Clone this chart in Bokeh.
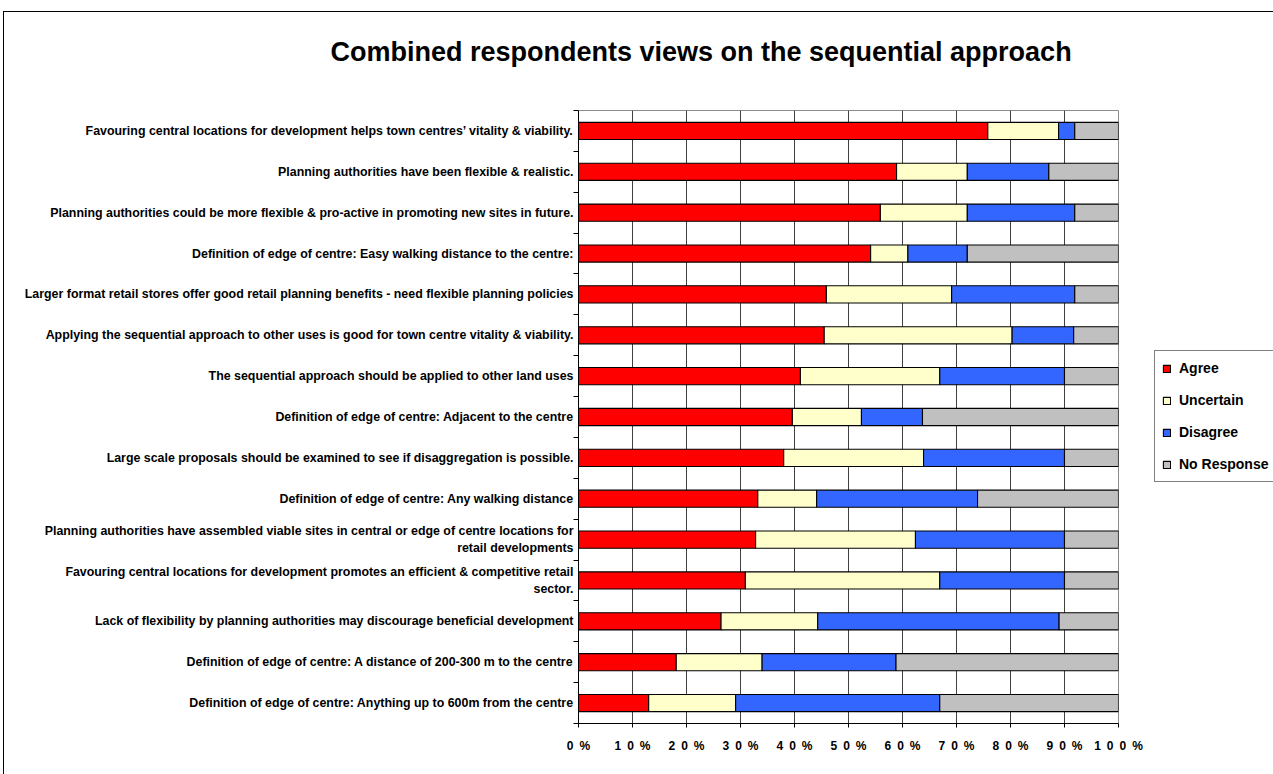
from bokeh.plotting import figure
from bokeh.models import ColumnDataSource, FixedTicker, Legend, LegendItem, Title
from bokeh.embed import file_html
from bokeh.resources import INLINE

categories = [
    "Favouring central locations for development helps town centres\u2019 vitality & viability.",
    "Planning authorities have been flexible & realistic.",
    "Planning authorities could be more flexible & pro-active in promoting new sites in future.",
    "Definition of edge of centre: Easy walking distance to the centre:",
    "Larger format retail stores offer good retail planning benefits - need flexible planning policies",
    "Applying the sequential approach to other uses is good for town centre vitality & viability.",
    "The sequential approach should be applied to other land uses",
    "Definition of edge of centre: Adjacent to the centre",
    "Large scale proposals should be examined to see if disaggregation is possible.",
    "Definition of edge of centre: Any walking distance",
    "Planning authorities have assembled viable sites in central or edge of centre locations for\nretail developments",
    "Favouring central locations for development promotes an efficient & competitive retail\nsector.",
    "Lack of flexibility by planning authorities may discourage beneficial development",
    "Definition of edge of centre: A distance of 200-300 m to the centre",
    "Definition of edge of centre: Anything up to 600m from the centre",
]
agree = [75.8, 58.9, 55.9, 54.1, 45.9, 45.5, 41.1, 39.6, 38.0, 33.2, 32.8, 30.9, 26.4, 18.1, 13.0]
uncertain = [13.1, 13.1, 16.1, 6.9, 23.2, 34.8, 25.8, 12.8, 25.9, 10.9, 29.6, 36.0, 17.9, 15.9, 16.1]
disagree = [3.0, 15.1, 19.9, 11.0, 22.8, 11.4, 23.1, 11.3, 26.1, 29.8, 27.6, 23.1, 44.7, 24.8, 37.8]
no_response = [8.1, 12.9, 8.1, 28.0, 8.1, 8.3, 10.0, 36.3, 10.0, 26.1, 10.0, 10.0, 11.0, 41.2, 33.1]
series_names = ["Agree", "Uncertain", "Disagree", "No Response"]
series_colors = ["#FF0000", "#FFFFCC", "#3366FF", "#C0C0C0"]
x_ticks = [0, 10, 20, 30, 40, 50, 60, 70, 80, 90, 100]
x_tick_labels = ["0\u2002%", "1\u20020\u2002%", "2\u20020\u2002%", "3\u20020\u2002%", "4\u20020\u2002%",
                 "5\u20020\u2002%", "6\u20020\u2002%", "7\u20020\u2002%", "8\u20020\u2002%",
                 "9\u20020\u2002%", "1\u20020\u20020\u2002%"]
title_text = "Combined respondents views on the sequential approach"

n = len(categories)
ypos = [n - i - 0.5 for i in range(n)]

src = ColumnDataSource(dict(y=ypos, agree=agree, uncertain=uncertain,
                            disagree=disagree, no_response=no_response))

p = figure(frame_width=540, frame_height=613,
           min_border_left=574, min_border_right=155,
           min_border_top=98, min_border_bottom=51,
           x_range=(0, 100), y_range=(0, n), title=None,
           output_backend="svg", toolbar_location=None)
p.styles = {"position": "relative", "left": "3px", "top": "11px",
            "border-left": "1px solid black", "border-top": "1px solid black"}

renderers = p.hbar_stack(["agree", "uncertain", "disagree", "no_response"], y="y", height=0.42,
                         color=series_colors, line_color="black", line_width=1.1,
                         source=src)

# title (spacer first so the real title sits higher)
spacer = Title(text=" ", text_font_size="1px", standoff=38)
p.add_layout(spacer, "above")
main_title = Title(text=title_text, text_font="Liberation Sans", text_font_style="bold",
                   text_font_size="27px", text_color="black", align="left",
                   offset=-248, standoff=6)
p.add_layout(main_title, "above")

# x axis
p.xaxis.ticker = FixedTicker(ticks=x_ticks, minor_ticks=[])
p.xaxis.major_label_overrides = {t: l for t, l in zip(x_ticks, x_tick_labels)}
p.xaxis.major_label_text_font = "Liberation Sans"
p.xaxis.major_label_text_font_style = "bold"
p.xaxis.major_label_text_font_size = "12px"
p.xaxis.major_label_text_color = "black"
p.xaxis.major_tick_out = 4
p.xaxis.major_tick_in = 0
p.xaxis.major_label_standoff = 11
p.xaxis.axis_line_color = "black"
p.xaxis.major_tick_line_color = "black"

# y axis
p.yaxis.ticker = FixedTicker(ticks=ypos, minor_ticks=list(range(n + 1)))
p.yaxis.major_label_overrides = {y: c for y, c in zip(ypos, categories)}
p.yaxis.major_label_text_font = "Liberation Sans"
p.yaxis.major_label_text_font_style = "bold"
p.yaxis.major_label_text_font_size = "12.4px"
p.yaxis.major_label_text_color = "black"
p.yaxis.major_tick_out = 0
p.yaxis.major_tick_in = 0
p.yaxis.minor_tick_out = 5
p.yaxis.minor_tick_in = 0
p.yaxis.minor_tick_line_color = "black"
p.yaxis.major_label_standoff = 0
p.yaxis.axis_line_color = "black"

# grid
p.xgrid.ticker = FixedTicker(ticks=x_ticks, minor_ticks=[])
p.xgrid.grid_line_color = "#404040"
p.xgrid.grid_line_width = 1
p.ygrid.grid_line_color = None
p.outline_line_color = "#8c8c8c"

# legend in right panel
leg = Legend(items=[LegendItem(label=nm, renderers=[r]) for nm, r in zip(series_names, renderers)],
             location=(36, 241))
leg.label_text_font = "Liberation Sans"
leg.label_text_font_style = "bold"
leg.label_text_font_size = "14px"
leg.label_text_color = "black"
leg.glyph_width = 9
leg.glyph_height = 9
leg.label_standoff = 8
leg.label_height = 20
leg.label_width = 110
leg.spacing = 12
leg.padding = 7
leg.margin = 0
leg.border_line_color = "black"
leg.border_line_width = 1
leg.background_fill_alpha = 1
p.add_layout(leg, "right")

open("out.html", "w").write(file_html(p, INLINE))
